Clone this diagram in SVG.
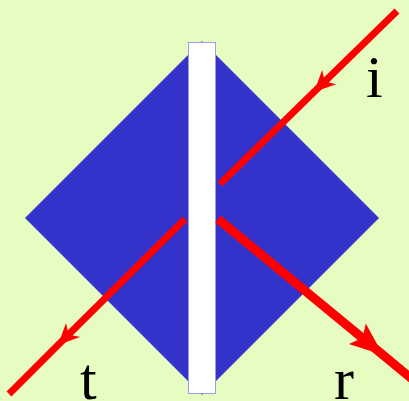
<svg xmlns="http://www.w3.org/2000/svg" width="409" height="401" viewBox="0 0 409 401">
  <style>
    .ray { fill: none; stroke: #ff0000; stroke-linecap: butt; }
    .lbl { font-family: "Liberation Serif", "Times New Roman", serif; font-size: 60px; fill: #000000; }
  </style>
  <defs>
    <marker id="small" markerUnits="userSpaceOnUse" markerWidth="30" markerHeight="30" viewBox="-20 -10 24 20" refX="0" refY="0" orient="auto" overflow="visible">
      <path d="M0,0 L-17,-8 L-12,0 L-17,8 Z" fill="#ff0000"/>
    </marker>
    <marker id="big" markerUnits="userSpaceOnUse" markerWidth="40" markerHeight="40" viewBox="-32 -14 36 28" refX="0" refY="0" orient="auto" overflow="visible">
      <path d="M0,0 L-30,-12 L-24,0 L-30,12 Z" fill="#ff0000"/>
    </marker>
  </defs>
  <rect x="0" y="0" width="409" height="401" fill="#e6fcc0"/>
  <g id="prism">
    <polygon points="202,41 379,218 202,395 25,218" fill="#3333cc"/>
  </g>
  <g id="film">
    <rect x="188.5" y="42.5" width="27" height="351" fill="#ffffff" stroke="#9c9cf0" stroke-width="1"/>
  </g>
  <g id="connectors">
    <path id="ray-i" class="ray" stroke-width="7" d="M397,11 L314,92 L220,184" marker-mid="url(#small)"/>
    <path id="ray-t" class="ray" stroke-width="7" d="M185,219 L58,345 L9,394" marker-mid="url(#small)"/>
    <path id="ray-r" class="ray" stroke-width="9" d="M218,219 L383,355 L412,379" marker-mid="url(#big)"/>
  </g>
  <g id="label-i"><text class="lbl" x="366" y="97">i</text></g>
  <g id="label-t"><text class="lbl" x="80" y="399">t</text></g>
  <g id="label-r"><text class="lbl" x="334" y="399">r</text></g>
</svg>
